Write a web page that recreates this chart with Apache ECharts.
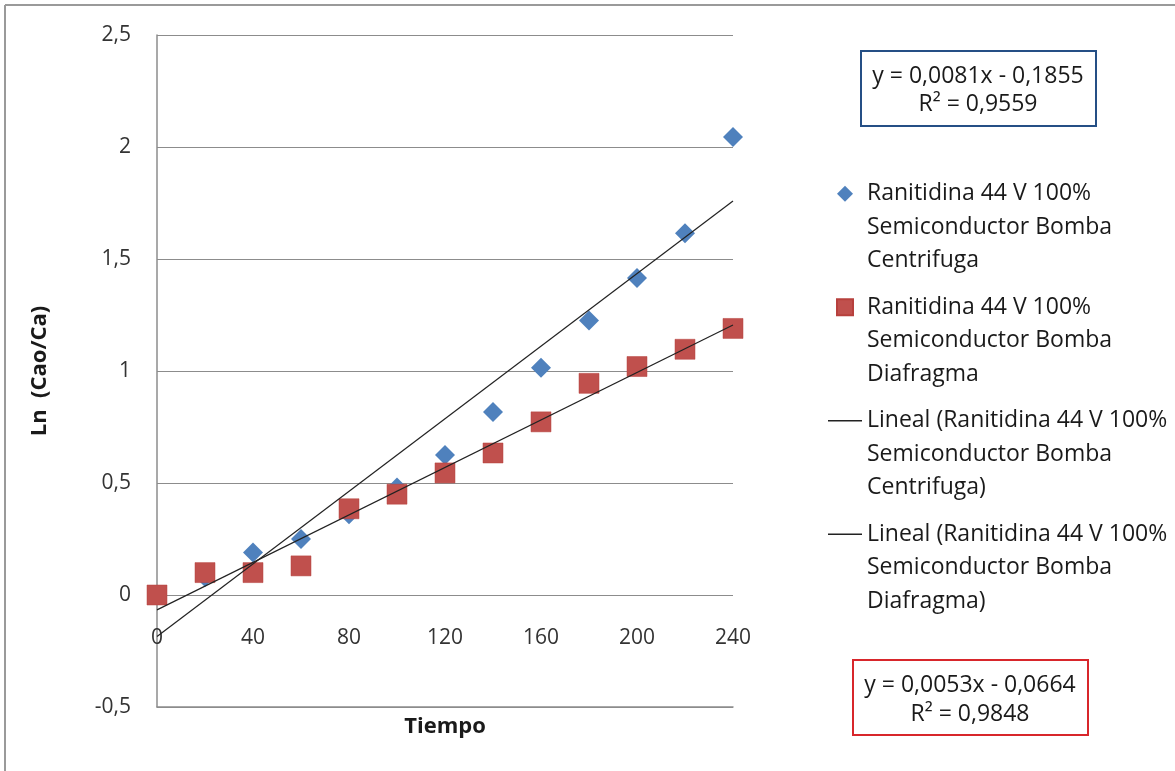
<!DOCTYPE html>
<html>
<head>
<meta charset="utf-8">
<script src="https://cdn.jsdelivr.net/npm/echarts@6/dist/echarts.min.js"></script>
<style>html,body{margin:0;padding:0;background:#fff}#c{width:1175px;height:771px}</style>
</head>
<body>
<div id="c"></div>
<script>
const tiempo = [0, 20, 40, 60, 80, 100, 120, 140, 160, 180, 200, 220, 240];
const centrifuga = [0, 0.08, 0.19, 0.25, 0.36, 0.48, 0.625, 0.817, 1.015, 1.225, 1.415, 1.615, 2.045];
const diafragma = [0, 0.1, 0.1, 0.13, 0.385, 0.45, 0.545, 0.634, 0.773, 0.945, 1.02, 1.097, 1.19];
const fitCentrifuga = { slope: 0.0081, intercept: -0.1855, r2: '0,9559', eq: 'y = 0,0081x - 0,1855' };
const fitDiafragma = { slope: 0.0053, intercept: -0.0664, r2: '0,9848', eq: 'y = 0,0053x - 0,0664' };
const xTicks = { min: 0, max: 240, interval: 40 };
const yTicks = { min: -0.5, max: 2.5, interval: 0.5 };
const names = [
  'Ranitidina 44 V 100%\nSemiconductor Bomba\nCentrifuga',
  'Ranitidina 44 V 100%\nSemiconductor Bomba\nDiafragma',
  'Lineal (Ranitidina 44 V 100%\nSemiconductor Bomba\nCentrifuga)',
  'Lineal (Ranitidina 44 V 100%\nSemiconductor Bomba\nDiafragma)'
];

const FONT = 'Open Sans';
const pts = (ys) => tiempo.map((x, i) => [x, ys[i]]);
const fitLine = (f) => [[xTicks.min, f.intercept], [xTicks.max, f.slope * xTicks.max + f.intercept]];

const chart = echarts.init(document.getElementById('c'), null, { renderer: 'canvas' });
chart.setOption({
  backgroundColor: '#fff',
  animation: false,
  grid: { left: 157, top: 35, width: 576, height: 672 },
  xAxis: {
    type: 'value', min: xTicks.min, max: xTicks.max, interval: xTicks.interval,
    name: 'Tiempo', nameLocation: 'middle', nameGap: 9,
    nameTextStyle: { fontFamily: FONT, fontSize: 22, fontWeight: 'bold', color: '#1a1a1a' },
    axisLine: { show: true, onZero: false, lineStyle: { color: '#8c8c8c', width: 1.5 } },
    axisTick: { show: false },
    splitLine: { show: false },
    axisLabel: { margin: -79, fontFamily: FONT, fontSize: 21, color: '#333' }
  },
  yAxis: {
    type: 'value', min: yTicks.min, max: yTicks.max, interval: yTicks.interval,
    name: 'Ln  (Cao/Ca)', nameLocation: 'middle', nameGap: 106,
    nameTextStyle: { fontFamily: FONT, fontSize: 22, fontWeight: 'bold', color: '#1a1a1a' },
    axisLine: { show: true, lineStyle: { color: '#8c8c8c', width: 1.5 } },
    axisTick: { show: false },
    splitLine: { show: true, lineStyle: { color: '#8c8c8c', width: 1 } },
    axisLabel: { margin: 26, fontFamily: FONT, fontSize: 21, color: '#333',
      formatter: (v) => String(v).replace('.', ',') }
  },
  legend: {
    orient: 'vertical', left: 828, top: 110, padding: 0,
    itemWidth: 34, itemHeight: 16, itemGap: -54,
    selectedMode: false,
    data: [
      { name: names[0], icon: 'path://M5,0L10,5L5,10L0,5Z' },
      { name: names[1], icon: 'path://M0,0H10V10H0Z' },
      { name: names[2], icon: 'path://M0,0H34V1.4H0Z' },
      { name: names[3], icon: 'path://M0,0H34V1.4H0Z' }
    ],
    formatter: (n) => '\n\n' + n,
    textStyle: { fontFamily: FONT, fontSize: 23, lineHeight: 33.5, color: '#1a1a1a' }
  },
  series: [
    { name: names[0], type: 'scatter', symbol: 'diamond', symbolSize: 20,
      itemStyle: { color: '#4F81BD', opacity: 1 }, data: pts(centrifuga), z: 2 },
    { name: names[1], type: 'scatter', symbol: 'rect', symbolSize: 20,
      itemStyle: { color: '#C0504D', borderColor: '#B7403D', borderWidth: 0.5, opacity: 1 }, data: pts(diafragma), z: 3 },
    { name: names[2], type: 'line', symbol: 'none', showSymbol: false,
      lineStyle: { color: '#222', width: 1.2 }, itemStyle: { color: '#222' }, data: fitLine(fitCentrifuga), z: 4 },
    { name: names[3], type: 'line', symbol: 'none', showSymbol: false,
      lineStyle: { color: '#222', width: 1.2 }, itemStyle: { color: '#222' }, data: fitLine(fitDiafragma), z: 4 }
  ],
  graphic: [
    { type: 'line', shape: { x1: 5, y1: 5, x2: 5, y2: 771 }, style: { stroke: '#9a9a9a', lineWidth: 2 } },
    { type: 'line', shape: { x1: 5, y1: 5, x2: 1175, y2: 5 }, style: { stroke: '#9a9a9a', lineWidth: 2 } },
    { type: 'group', left: 860, top: 50, children: [
      { type: 'rect', shape: { x: 0, y: 0, width: 235, height: 75 }, style: { fill: '#fff', stroke: '#254F85', lineWidth: 2 } },
      { type: 'text', x: 117, y: 25, style: { text: fitCentrifuga.eq, font: '23px "Open Sans"', fill: '#1a1a1a', align: 'center', verticalAlign: 'middle' } },
      { type: 'text', x: 117, y: 53, style: { text: 'R² = ' + fitCentrifuga.r2, font: '23px "Open Sans"', fill: '#1a1a1a', align: 'center', verticalAlign: 'middle' } }
    ]},
    { type: 'group', left: 852, top: 659, children: [
      { type: 'rect', shape: { x: 0, y: 0, width: 235, height: 75 }, style: { fill: '#fff', stroke: '#D8262B', lineWidth: 2 } },
      { type: 'text', x: 117, y: 25, style: { text: fitDiafragma.eq, font: '23px "Open Sans"', fill: '#1a1a1a', align: 'center', verticalAlign: 'middle' } },
      { type: 'text', x: 117, y: 54, style: { text: 'R² = ' + fitDiafragma.r2, font: '23px "Open Sans"', fill: '#1a1a1a', align: 'center', verticalAlign: 'middle' } }
    ]}
  ]
});
</script>
</body>
</html>
